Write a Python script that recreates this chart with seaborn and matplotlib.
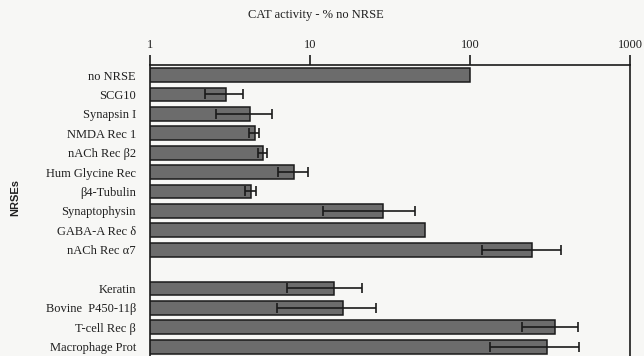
import numpy as np
import pandas as pd
import matplotlib
matplotlib.use('Agg')
import matplotlib.pyplot as plt
import seaborn as sns

# values (% of CAT activity with no NRSE)
nrse = ['no NRSE', 'SCG10', 'Synapsin I', 'NMDA Rec 1', 'nACh Rec β2',
        'Hum Glycine Rec', 'β4-Tubulin', 'Synaptophysin', 'GABA-A Rec δ',
        'nACh Rec α7', ' ', 'Keratin', 'Bovine  P450-11β', 'T-cell Rec β',
        'Macrophage Prot']
activity = [100, 3.0, 4.2, 4.5, 5.05, 8.0, 4.25, 28.5, 52, 245,
            np.nan, 14.2, 16.0, 340, 305]
err = [np.nan, 0.8, 1.6, 0.33, 0.3, 1.7, 0.35, 16.5, np.nan, 126,
       np.nan, 7.0, 9.8, 130, 172]

df = pd.DataFrame({'NRSE': nrse, 'activity': activity, 'err': err})

sns.set_style('white')
plt.rcParams['font.family'] = ['Liberation Serif', 'DejaVu Serif']
plt.rcParams['text.color'] = '#202020'
plt.rcParams['xtick.color'] = '#202020'
plt.rcParams['ytick.color'] = '#202020'

fig = plt.figure(figsize=(6.44, 3.56), dpi=100, facecolor='#f7f7f5')
ax = fig.add_axes([150 / 644, 0, 480 / 644, 1 - 65 / 356])
ax.set_facecolor('#f7f7f5')
ax.set_xscale('log')

sns.barplot(data=df, x='activity', y='NRSE', orient='h', order=nrse,
            color='#6c6c6c', saturation=1, edgecolor='#1a1a1a', linewidth=1.1,
            width=0.72, errorbar=None, ax=ax)

ypos = np.arange(len(nrse))
m = ~df['err'].isna()
ax.errorbar(df['activity'][m], ypos[m], xerr=df['err'][m], fmt='none',
            ecolor='#1a1a1a', elinewidth=1.2, capsize=3.5, capthick=1.2)

ax.set_xlim(1, 1000)
ax.set_ylim(14.48, -0.52)
ax.xaxis.tick_top()
ax.set_xticks([1, 10, 100, 1000])
ax.set_xticklabels(['1', '10', '100', '1000'])
ax.minorticks_off()
ax.tick_params(axis='x', which='major', direction='out', length=7, width=1.2,
               color='#1a1a1a', labelsize=9, pad=3)
ax.tick_params(axis='y', length=0, labelsize=9, pad=10)
ax.set_xlabel('')
ax.set_ylabel('')

for s in ['top', 'left', 'right']:
    ax.spines[s].set_visible(True)
    ax.spines[s].set_color('#1a1a1a')
    ax.spines[s].set_linewidth(1.2)
ax.spines['bottom'].set_visible(False)

fig.text(316 / 644, 1 - 15 / 356, 'CAT activity - % no NRSE', ha='center',
         va='center', fontsize=9)
fig.text(15 / 644, 1 - 197 / 356, 'NRSEs', rotation=90, ha='center',
         va='center', fontsize=8, fontweight='bold', family='Liberation Sans')

fig.savefig('out.png', dpi=100, facecolor=fig.get_facecolor())
